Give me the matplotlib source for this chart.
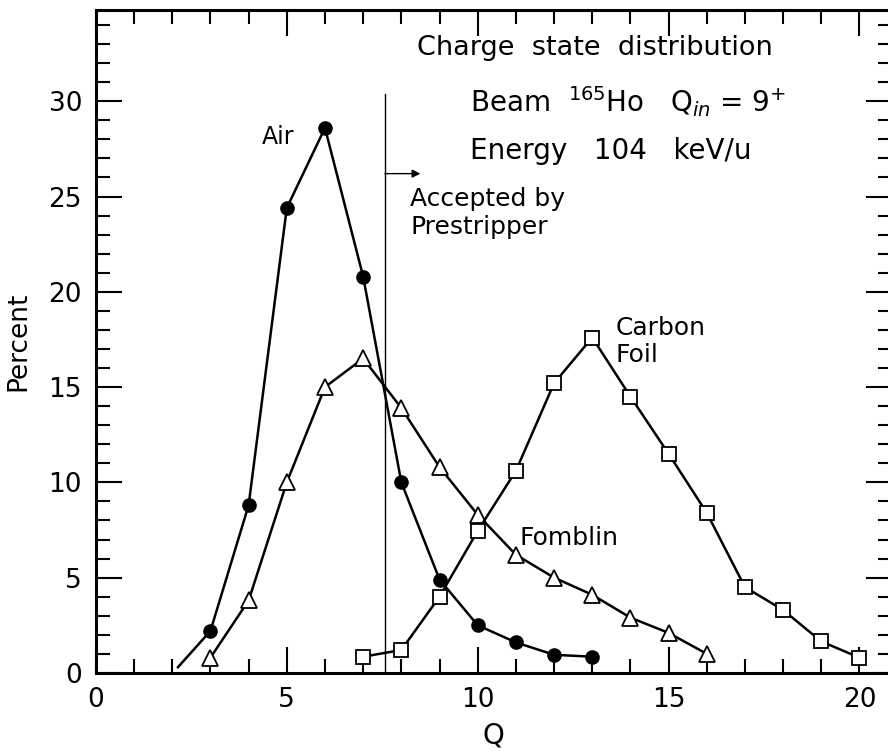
import matplotlib.pyplot as plt
from matplotlib.ticker import MultipleLocator

# charge state distributions
air_q = [2.15, 3, 4, 5, 6, 7, 8, 9, 10, 11, 12, 13]
air_pct = [0.3, 2.2, 8.8, 24.4, 28.6, 20.8, 10.0, 4.9, 2.5, 1.6, 0.95, 0.85]

fomblin_q = [3, 4, 5, 6, 7, 8, 9, 10, 11, 12, 13, 14, 15, 16]
fomblin_pct = [0.8, 3.8, 10.0, 15.0, 16.5, 13.9, 10.8, 8.3, 6.2, 5.0, 4.1, 2.9, 2.1, 1.0]

carbon_q = [7, 8, 9, 10, 11, 12, 13, 14, 15, 16, 17, 18, 19, 20]
carbon_pct = [0.85, 1.2, 4.0, 7.45, 10.6, 15.2, 17.6, 14.5, 11.5, 8.4, 4.5, 3.3, 1.65, 0.8]

cut_q = 7.57  # prestripper acceptance

plt.rcParams['font.family'] = ['DejaVu Sans']

fig = plt.figure(figsize=(8.88, 7.51), dpi=100)
# right spine sits just past the image edge, as in the scan
ax = fig.add_axes([0.108, 0.104, 0.896, 0.883])

ax.plot(air_q, air_pct, color='black', lw=1.8, marker='o', ms=9.5,
        mfc='black', mec='black', markevery=list(range(1, len(air_q))), zorder=3)
ax.plot(fomblin_q, fomblin_pct, color='black', lw=1.8, marker='^', ms=11,
        mfc='white', mec='black', mew=1.3, zorder=3)
ax.plot(carbon_q, carbon_pct, color='black', lw=1.8, marker='s', ms=10,
        mfc='white', mec='black', mew=1.3, zorder=3)

ax.plot([cut_q, cut_q], [0, 30.4], color='black', lw=1.0)
ax.annotate('', xy=(8.5, 26.2), xytext=(cut_q, 26.2),
            arrowprops=dict(arrowstyle='-|>', color='black', lw=1.0,
                            mutation_scale=12, shrinkA=0, shrinkB=0))

ax.text(8.23, 25.5, 'Accepted by\nPrestripper', fontsize=18, va='top',
        ha='left', linespacing=1.2)
ax.text(4.35, 28.1, 'Air', fontsize=17, va='center', ha='left')
ax.text(8.42, 32.8, 'Charge  state  distribution', fontsize=19.5, va='center', ha='left')
ax.text(9.79, 30.0, r'Beam  $^{165}$Ho   Q$_{in}$ = 9$^{+}$', fontsize=20,
        va='center', ha='left')
ax.text(9.79, 27.4, 'Energy   104   keV/u', fontsize=20, va='center', ha='left')
ax.text(13.62, 17.4, 'Carbon\nFoil', fontsize=18, va='center', ha='left',
        linespacing=1.15)
ax.text(11.1, 7.1, 'Fomblin', fontsize=18, va='center', ha='left')

ax.set_xlim(0, 20.84)
ax.set_ylim(0, 34.8)
ax.xaxis.set_major_locator(MultipleLocator(5))
ax.xaxis.set_minor_locator(MultipleLocator(1))
ax.yaxis.set_major_locator(MultipleLocator(5))
ax.yaxis.set_minor_locator(MultipleLocator(1))
ax.tick_params(which='both', direction='in', top=True, right=True,
               labelsize=19, pad=10, width=1.5)
ax.tick_params(which='major', length=19)
ax.tick_params(which='minor', length=10)

for s in ax.spines.values():
    s.set_linewidth(2.2)

ax.set_xlabel('Q', fontsize=20, labelpad=6)
ax.set_ylabel('Percent', fontsize=19, labelpad=12)

fig.savefig('out.png', dpi=100)
